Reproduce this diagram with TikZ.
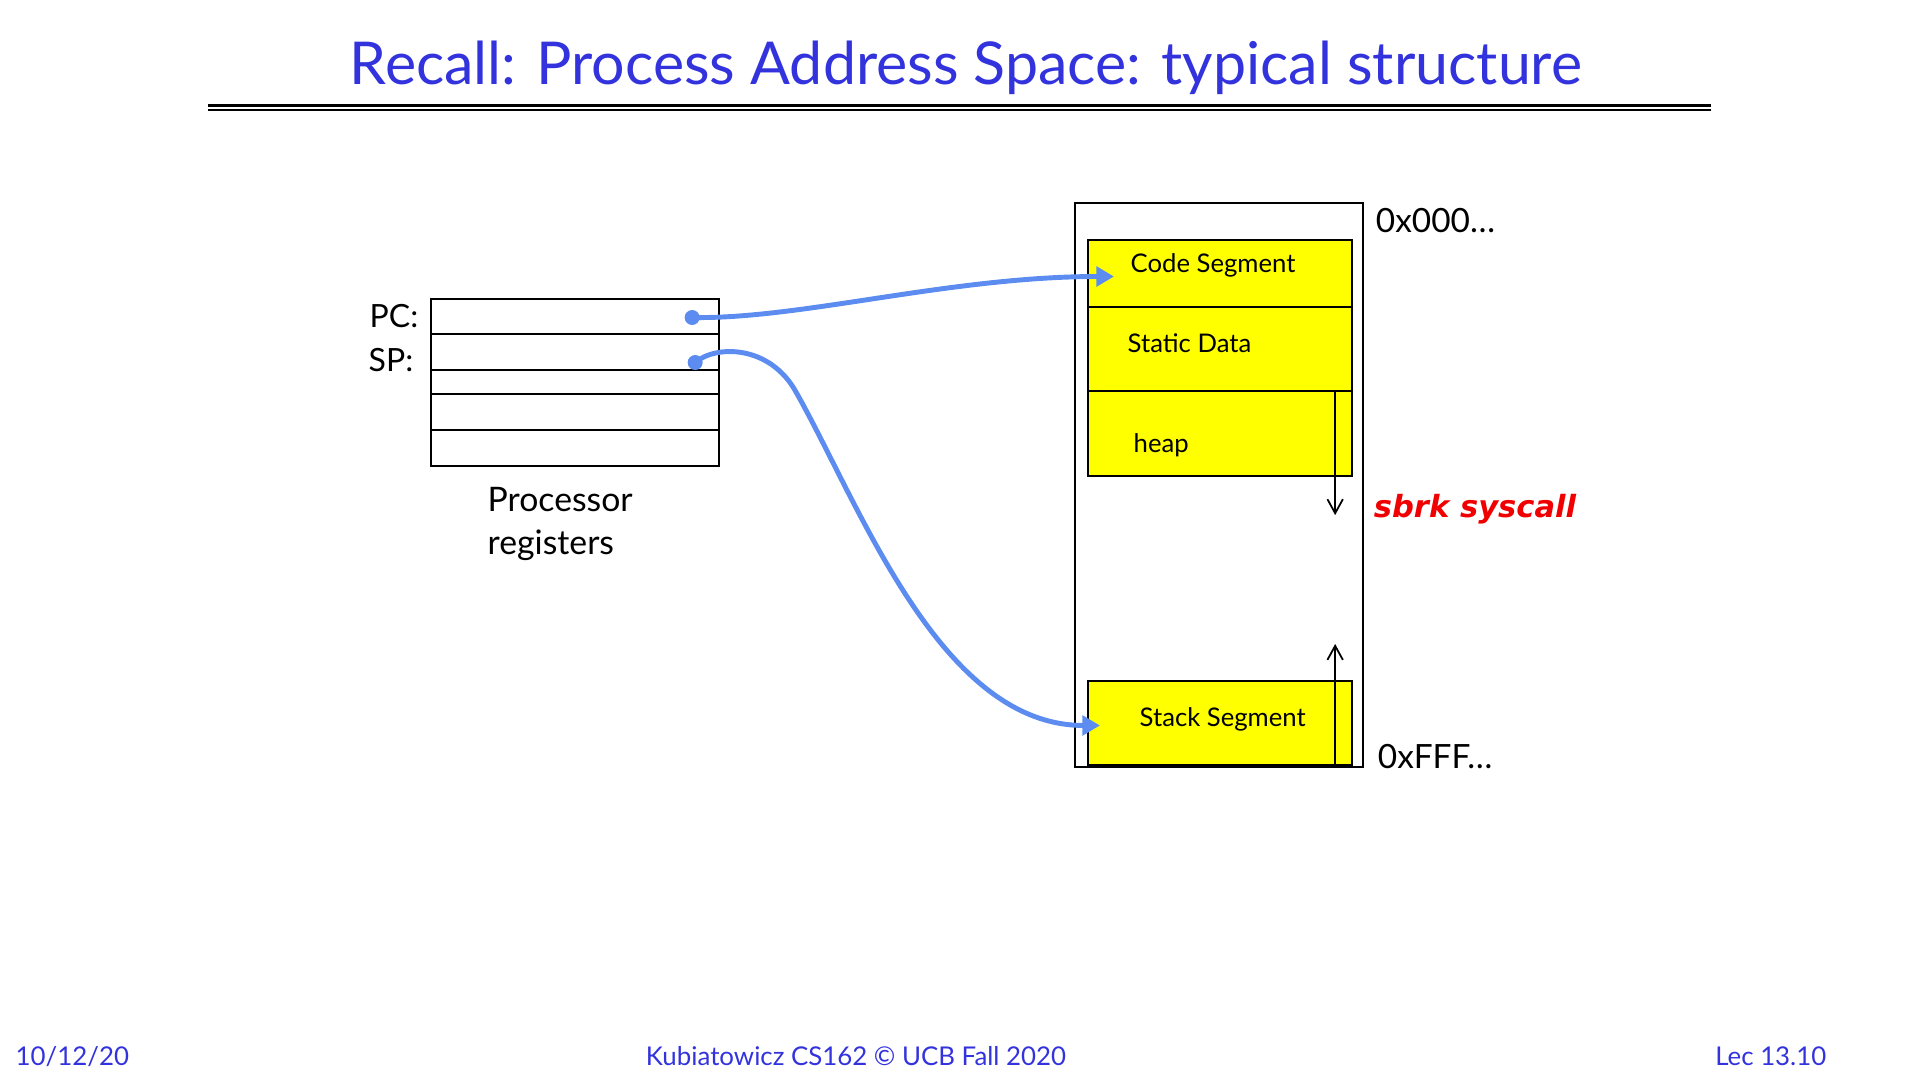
\documentclass[tikz,border=0pt]{standalone}
\usepackage{fontspec}
\setmainfont{Lato}
\newfontfamily\sbrkfont{DejaVu Sans}
\usetikzlibrary{arrows.meta, positioning, calc}
\definecolor{slideblue}{RGB}{51,51,221}
\definecolor{ptrblue}{RGB}{92,140,240}
\definecolor{segyellow}{RGB}{255,255,0}
\definecolor{sbrkred}{RGB}{240,0,0}

\begin{document}
\begin{tikzpicture}[
		x=0.01cm, y=-0.01cm,
		% Register file styles
		regrow/.style={draw=black, line width=0.6pt, minimum width=2.88cm, minimum height=0.36cm, inner sep=0pt, outer sep=0pt},
		lbl/.style={inner sep=0pt, font=\fontsize{9.1pt}{10pt}\selectfont},
		% Address space styles
		membox/.style={draw=black, line width=0.6pt, inner sep=0pt, outer sep=0pt},
		segment/.style={draw=black, line width=0.6pt, fill=segyellow, minimum width=2.64cm, inner sep=0pt, outer sep=0pt},
		segtext/.style={inner sep=0pt, anchor=base west, font=\fontsize{7.3pt}{8pt}\selectfont},
		growth/.style={line width=0.5pt, -{Straight Barb[length=4pt,width=4.4pt]}},
		% Pointer styles
		ptrdot/.style={circle, fill=ptrblue, inner sep=0pt, minimum size=0.15cm},
		ptr/.style={draw=ptrblue, line width=1.4pt, -{Triangle[length=5pt,width=5.5pt]}},
		footer/.style={inner sep=0pt, text=slideblue, font=\fontsize{7.35pt}{9pt}\selectfont}
		]
		\useasboundingbox (0,0) rectangle (1920,1080);
		
		% --- TITLE ---
		\node[inner sep=0pt, anchor=base, text=slideblue, font=\fontsize{16.8pt}{18pt}\selectfont] (title) at (966,85) {Recall: Process Address Space: typical structure};
		\draw[line width=0.9pt] (208,105.5) -- (1711,105.5);
		\draw[line width=0.45pt] (208,110) -- (1711,110);
		
		% --- PROCESSOR REGISTERS ---
		\node[regrow, minimum height=0.35cm, anchor=north west] (pcreg) at (431,299) {};
		\node[regrow, below=0pt of pcreg] (spreg) {};
		\node[regrow, minimum height=0.24cm, below=0pt of spreg] (reg3) {};
		\node[regrow, below=0pt of reg3] (reg4) {};
		\node[regrow, below=0pt of reg4] (reg5) {};
		\node[lbl, left=0.12cm of pcreg] (pclbl) {PC:};
		\node[lbl, anchor=east] (splbl) at ($(spreg.west)+(-17,8)$) {SP:};
		\node[lbl, anchor=north west, align=left, font=\fontsize{9.6pt}{12pt}\selectfont] (reglbl) at (487,487) {Processor\\registers};
		
		% --- ADDRESS SPACE ---
		\node[membox, minimum width=2.88cm, minimum height=5.64cm, anchor=north west] (addrspace) at (1075,203) {};
		\node[segment, minimum height=0.67cm, anchor=north west] (code) at (1088,240) {};
		\node[segment, minimum height=0.84cm, below=0pt of code] (static) {};
		\node[segment, minimum height=0.85cm, below=0pt of static] (heap) {};
		\node[segment, minimum height=0.85cm, anchor=south west] (stack) at (1088,766) {};
		\draw[line width=1pt] (stack.south west) -- (stack.south east);
		
		\node[segtext] at ($(code.north west)+(42,33)$) {Code Segment};
		\node[segtext] at ($(static.north west)+(39,45)$) {Static Data};
		\node[segtext] at ($(heap.north west)+(45,61)$) {heap};
		\node[segtext] at ($(stack.north west)+(51,46)$) {Stack Segment};
		
		\node[lbl, anchor=base west, font=\fontsize{9.5pt}{10pt}\selectfont] (lowaddr) at ($(addrspace.north east)+(12,30)$) {0x000\ldots};
		\node[lbl, anchor=base west, font=\fontsize{9.5pt}{10pt}\selectfont] (highaddr) at ($(addrspace.south east)+(14,1)$) {0xFFF\ldots};
		\node[inner sep=0pt, anchor=base west, text=sbrkred, font=\sbrkfont\fontsize{8.7pt}{10pt}\selectfont\bfseries\itshape] (sbrk) at ($(addrspace.east)+(10,32)$) {sbrk syscall};
		
		% heap and stack growth
		\coordinate (heapbrk) at ($(heap.north east)+(-17,124)$);
		\coordinate (stacktop) at ($(stack.south east)+(-17,-122)$);
		\draw[growth] ($(heap.north east)+(-17,0)$) -- (heapbrk);
		\draw[growth] ($(stack.south east)+(-17,0)$) -- (stacktop);
		
		% --- POINTERS ---
		\node[ptrdot] (pcdot) at ($(pcreg.east)+(-27,1)$) {};
		\node[ptrdot] (spdot) at ($(spreg.east)+(-24,10.5)$) {};
		\coordinate (codein) at ($(code.west)+(26,3)$);
		\coordinate (stackin) at ($(stack.west)+(12,2)$);
		\draw[ptr] (pcdot.center) .. controls +(108,2) and +(-164,0) .. (codein);
		\draw[ptr] (spdot.center) .. controls +(21,-18) and +(-26,-47) .. (796,392)
		.. controls +(64,113) and +(-160,0) .. (stackin);
		
		% --- FOOTER ---
		\node[footer, anchor=base west] (date) at (15,1066) {10/12/20};
		\node[footer, anchor=base] (course) at (856,1066) {Kubiatowicz CS162 © UCB Fall 2020};
		\node[footer, anchor=base east] (lec) at (1827,1066) {Lec 13.10};
	\end{tikzpicture}
\end{document}
